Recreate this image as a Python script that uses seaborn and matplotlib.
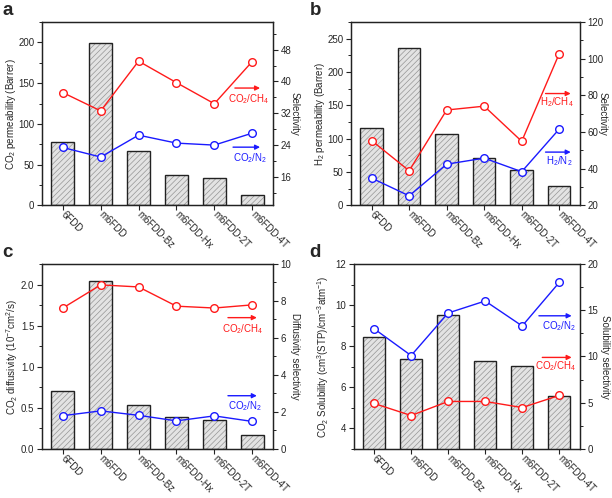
import numpy as np
import pandas as pd
import matplotlib
matplotlib.use("Agg")
import matplotlib.pyplot as plt
import seaborn as sns
from matplotlib.ticker import MultipleLocator, FormatStrFormatter

categories = ["6FDD", "m6FDD", "m6FDD-Bz", "m6FDD-Hx", "m6FDD-2T", "m6FDD-4T"]

# panel a: CO2 permeability and selectivities
co2_perm = [78, 199, 67, 37.5, 33, 13]
co2_ch4_perm_sel = [37.2, 32.6, 45.1, 39.7, 34.4, 45.0]
co2_n2_perm_sel = [23.4, 21.0, 26.5, 24.5, 24.0, 27.0]

# panel b: H2 permeability and selectivities
h2_perm = [115.5, 236.5, 107, 70.5, 53, 29.5]
h2_ch4_sel = [55.3, 38.8, 72.0, 74.1, 54.9, 102.8]
h2_n2_sel = [34.8, 25.1, 42.4, 45.7, 38.3, 61.6]

# panel c: CO2 diffusivity and diffusivity selectivities
co2_diff = [0.70, 2.045, 0.535, 0.39, 0.357, 0.175]
co2_ch4_diff_sel = [7.62, 8.87, 8.76, 7.72, 7.62, 7.79]
co2_n2_diff_sel = [1.80, 2.06, 1.82, 1.52, 1.79, 1.49]

# panel d: CO2 solubility and solubility selectivities
co2_sol = [8.47, 7.38, 9.53, 7.30, 7.06, 5.60]
co2_ch4_sol_sel = [4.92, 3.62, 5.14, 5.14, 4.48, 5.79]
co2_n2_sol_sel = [13.0, 10.1, 14.7, 16.0, 13.3, 18.0]

sns.set_theme(style="ticks")
plt.rcParams["font.family"] = ["Liberation Sans", "DejaVu Sans"]
plt.rcParams["mathtext.fontset"] = "custom"
plt.rcParams["mathtext.rm"] = "Liberation Sans"
plt.rcParams["mathtext.it"] = "Liberation Sans:italic"
plt.rcParams["mathtext.bf"] = "Liberation Sans:bold"
plt.rcParams["hatch.linewidth"] = 0.5
plt.rcParams["axes.edgecolor"] = "#222222"
plt.rcParams["axes.linewidth"] = 0.9

RED = "#ff1a1a"
BLUE = "#1a1aff"
FS = 7

fig = plt.figure(figsize=(6.12, 4.98), dpi=100)


def panel(pos, bars, red, blue, ylim_l, ylim_r, maj_l, min_l, maj_r, min_r,
          ylabel_l, ylabel_r, letter, letter_xy, arrows, pad_l, pad_r,
          fmt_l=None):
    ax = fig.add_axes(pos)
    df = pd.DataFrame({"cat": categories, "val": bars, "red": red, "blue": blue})
    df["pos"] = np.arange(len(df))
    sns.barplot(data=df, x="cat", y="val", ax=ax, color="#e3e3e3",
                edgecolor="#959595", linewidth=0, hatch="//////", width=0.6,
                saturation=1, errorbar=None)
    sns.barplot(data=df, x="cat", y="val", ax=ax, color="#222222", fill=False,
                linewidth=1.0, width=0.6, errorbar=None)
    ax.set_xlim(-0.55, len(categories) - 0.45)
    ax.set_ylim(*ylim_l)
    ax.yaxis.set_major_locator(MultipleLocator(maj_l))
    ax.yaxis.set_minor_locator(MultipleLocator(min_l))
    if fmt_l:
        ax.yaxis.set_major_formatter(FormatStrFormatter(fmt_l))
    ax.set_xlabel("")
    ax.set_ylabel(ylabel_l, fontsize=FS, labelpad=pad_l)
    ax.tick_params(axis="both", which="major", direction="out", length=3.5,
                   width=0.8, labelsize=FS, pad=2, color="#222222")
    ax.tick_params(axis="y", which="minor", direction="out", length=2,
                   width=0.7, color="#222222")
    ax.tick_params(axis="x", which="minor", bottom=False)
    ax.set_xticks(np.arange(len(categories)))
    ax.set_xticklabels(categories, rotation=-45, ha="left", va="center",
                       rotation_mode="anchor", fontsize=FS)

    ax2 = ax.twinx()
    sns.lineplot(data=df, x="pos", y="red", ax=ax2, color=RED, linewidth=1,
                 marker="o", markersize=5.5, markerfacecolor="white",
                 markeredgecolor=RED, markeredgewidth=1)
    sns.lineplot(data=df, x="pos", y="blue", ax=ax2, color=BLUE, linewidth=1,
                 marker="o", markersize=5.5, markerfacecolor="white",
                 markeredgecolor=BLUE, markeredgewidth=1)
    ax2.set_xlim(-0.55, len(categories) - 0.45)
    ax2.set_ylim(*ylim_r)
    ax2.yaxis.set_major_locator(MultipleLocator(maj_r))
    ax2.yaxis.set_minor_locator(MultipleLocator(min_r))
    ax2.set_xlabel("")
    ax2.set_ylabel(ylabel_r, fontsize=FS, rotation=270, labelpad=pad_r)
    ax2.tick_params(axis="y", which="major", direction="out", length=3.5,
                    width=0.8, labelsize=FS, pad=2, color="#222222")
    ax2.tick_params(axis="y", which="minor", direction="out", length=2,
                    width=0.7, color="#222222")

    for (label, color, x0, x1, ya, xt, yt) in arrows:
        ax2.annotate("", xy=(x1, ya), xytext=(x0, ya), xycoords="axes fraction",
                     textcoords="axes fraction",
                     arrowprops=dict(arrowstyle="-|>", color=color, lw=1,
                                     mutation_scale=7, shrinkA=0, shrinkB=0))
        ax2.text(xt, yt, label, transform=ax2.transAxes, ha="right",
                 va="center", color=color, fontsize=FS)

    fig.text(letter_xy[0], letter_xy[1], letter, fontsize=13.5,
             fontweight="bold", va="top", ha="left")
    return ax, ax2


panel([0.0686, 0.588, 0.3775, 0.3675], co2_perm, co2_ch4_perm_sel,
      co2_n2_perm_sel, (0, 225), (8.9, 54.9), 50, 25, 8, 4,
      r"CO$_2$ permeability (Barrer)", "Selectivity", "a", (0.004, 0.995),
      [(r"CO$_2$/CH$_4$", RED, 0.835, 0.944, 0.64, 0.985, 0.58),
       (r"CO$_2$/N$_2$", BLUE, 0.827, 0.944, 0.317, 0.975, 0.258)],
      pad_l=0.5, pad_r=6)

panel([0.5735, 0.588, 0.374, 0.3675], h2_perm, h2_ch4_sel, h2_n2_sel,
      (0, 275), (20, 120), 50, 25, 20, 10,
      r"H$_2$ permeability (Barrer)", "Selectivity", "b", (0.506, 0.995),
      [(r"H$_2$/CH$_4$", RED, 0.85, 0.96, 0.61, 0.975, 0.565),
       (r"H$_2$/N$_2$", BLUE, 0.85, 0.96, 0.29, 0.97, 0.243)],
      pad_l=0.5, pad_r=3)

panel([0.0686, 0.0984, 0.3775, 0.3715], co2_diff, co2_ch4_diff_sel,
      co2_n2_diff_sel, (0, 2.25), (0, 10), 0.5, 0.25, 2, 1,
      r"CO$_2$ diffusivity (10$^{-7}$cm$^2$/s)", "Diffusivity selectivity",
      "c", (0.004, 0.51),
      [(r"CO$_2$/CH$_4$", RED, 0.805, 0.93, 0.71, 0.96, 0.65),
       (r"CO$_2$/N$_2$", BLUE, 0.805, 0.93, 0.288, 0.955, 0.232)],
      pad_l=0.5, pad_r=6, fmt_l="%.1f")

panel([0.578, 0.0984, 0.369, 0.3715], co2_sol, co2_ch4_sol_sel,
      co2_n2_sol_sel, (3, 12), (0, 20), 2, 1, 5, 2.5,
      r"CO$_2$ Solubility (cm$^3$(STP)/cm$^{-3}$atm$^{-1}$)",
      "Solubility selectivity", "d", (0.506, 0.51),
      [(r"CO$_2$/N$_2$", BLUE, 0.82, 0.965, 0.72, 0.985, 0.662),
       (r"CO$_2$/CH$_4$", RED, 0.835, 0.965, 0.495, 0.985, 0.448)],
      pad_l=3, pad_r=9)

fig.savefig("out.png", dpi=100)
